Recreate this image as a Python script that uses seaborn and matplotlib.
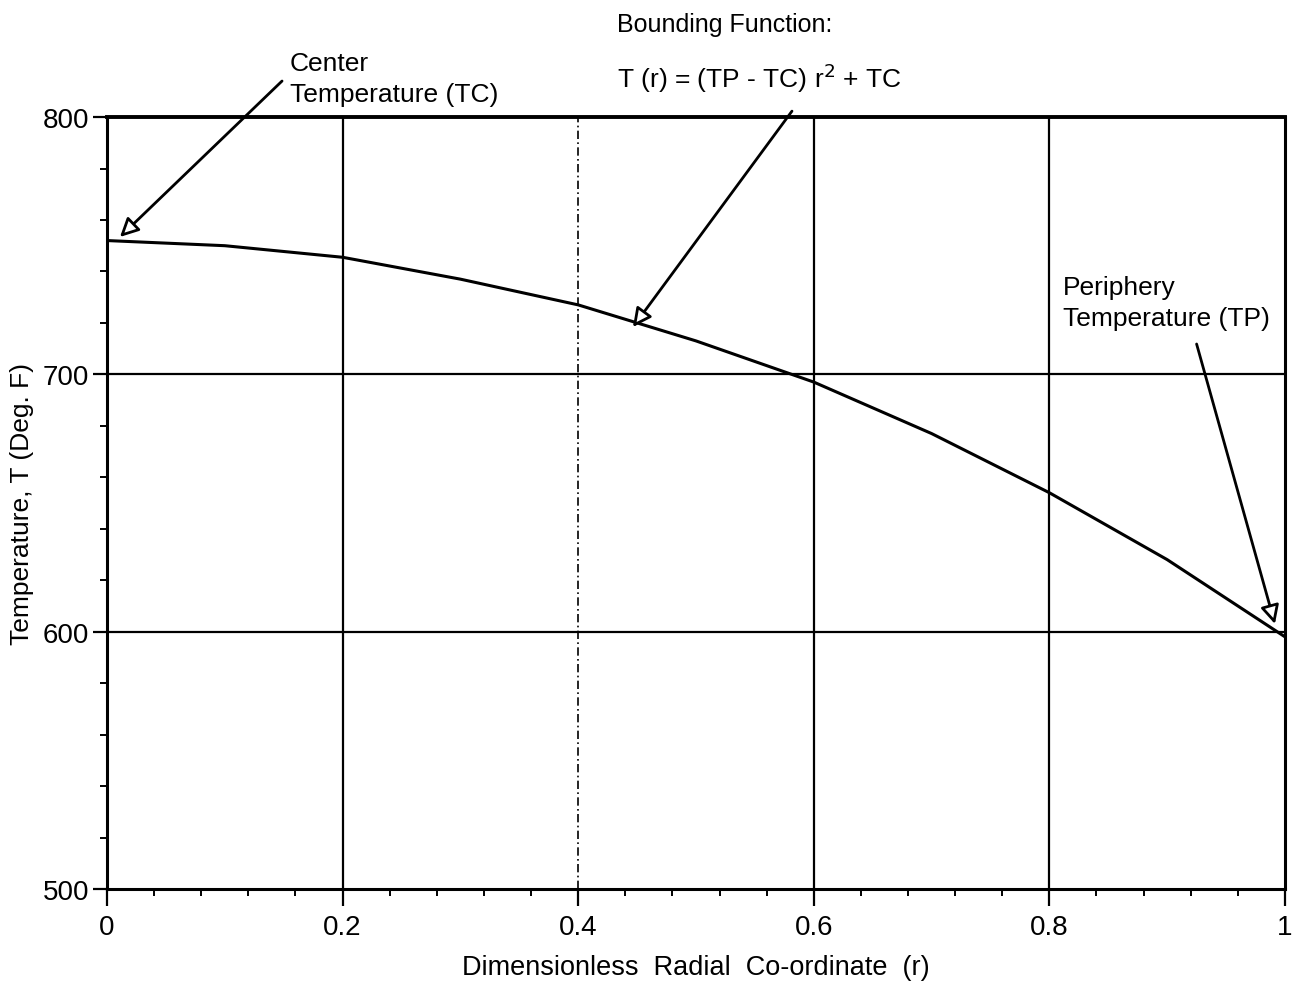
import matplotlib
matplotlib.use("Agg")
import matplotlib.pyplot as plt
from matplotlib.ticker import MultipleLocator, FixedLocator
import seaborn as sns
import pandas as pd

# ---- data ----
radius = [0.0, 0.1, 0.2, 0.3, 0.4, 0.5, 0.6, 0.7, 0.8, 0.9, 1.0]
temperature = [752, 750, 745.5, 737, 727, 713, 697, 677, 654, 628, 598]
x_ticks = [0, 0.2, 0.4, 0.6, 0.8, 1.0]
x_tick_labels = ["0", "0.2", "0.4", "0.6", "0.8", "1"]
y_ticks = [500, 600, 700, 800]
y_tick_labels = ["500", "600", "700", "800"]

df = pd.DataFrame({"r": radius, "T": temperature})

sns.set_theme(style="white")
plt.rcParams["font.family"] = ["Liberation Sans", "DejaVu Sans"]

fig = plt.figure(figsize=(12.94, 9.87), dpi=100)
ax = fig.add_axes([0.0827, 0.0983, 0.9103, 0.7821])

# grid lines
for gx in [0.2, 0.6, 0.8]:
    ax.axvline(gx, color="black", lw=1.6, zorder=1)
ax.axvline(0.4, color="black", lw=1.2, ls=(0, (5, 2, 1, 2)), zorder=1)
for gy in [600, 700]:
    ax.axhline(gy, color="black", lw=1.6, zorder=1)

sns.lineplot(data=df, x="r", y="T", color="black", lw=2.2, ax=ax, zorder=3)

ax.set_xlim(0, 1)
ax.set_ylim(500, 800)
ax.xaxis.set_major_locator(FixedLocator(x_ticks))
ax.set_xticklabels(x_tick_labels)
ax.yaxis.set_major_locator(FixedLocator(y_ticks))
ax.set_yticklabels(y_tick_labels)
ax.xaxis.set_minor_locator(MultipleLocator(0.04))
ax.yaxis.set_minor_locator(MultipleLocator(20))

ax.tick_params(axis="both", which="both", bottom=True, left=True, top=False, right=False)
ax.tick_params(axis="both", which="major", direction="out", length=10, width=1.6,
               color="black", labelsize=20, labelcolor="black")
ax.tick_params(axis="both", which="minor", direction="out", length=5, width=1.4, color="black")
ax.tick_params(axis="x", which="major", pad=6, length=12)
ax.tick_params(axis="y", which="major", pad=3)

for s in ax.spines.values():
    s.set_visible(True)
    s.set_color("black")
    s.set_linewidth(2.2)
ax.spines["top"].set_linewidth(2.8)

ax.set_xlabel("Dimensionless  Radial  Co-ordinate  (r)", fontsize=19.5, color="black", labelpad=10)
ax.set_ylabel("Temperature, T (Deg. F)", fontsize=19, color="black", labelpad=6)

arrow_kw = dict(arrowstyle="-|>", facecolor="white", edgecolor="black", lw=2.0,
                mutation_scale=28, shrinkA=0, shrinkB=0)

# Center temperature
ax.annotate("", xy=(0.011, 753.4), xytext=(0.1486, 814), xycoords="data",
            textcoords="data", arrowprops=arrow_kw, annotation_clip=False)
ax.text(0.155, 815, "Center\nTemperature (TC)", fontsize=19, color="black",
        ha="left", va="center", linespacing=1.4, clip_on=False)

# Bounding function
ax.annotate("", xy=(0.4465, 718.4), xytext=(0.5815, 802.3), xycoords="data",
            textcoords="data", arrowprops=arrow_kw, annotation_clip=False)
ax.text(0.433, 836, "Bounding Function:", fontsize=18, color="black",
        ha="left", va="center", clip_on=False)
ax.text(0.433, 815.5, r"T (r) = (TP - TC) r$^{2}$ + TC", fontsize=19, color="black",
        ha="left", va="center", clip_on=False)

# Periphery temperature
ax.annotate("", xy=(0.9915, 603), xytext=(0.925, 711.8), xycoords="data",
            textcoords="data", arrowprops=arrow_kw, annotation_clip=False)
ax.text(0.8115, 728, "Periphery\nTemperature (TP)", fontsize=19, color="black",
        ha="left", va="center", linespacing=1.4, clip_on=False)

fig.savefig("out.png", dpi=100, facecolor="white")
